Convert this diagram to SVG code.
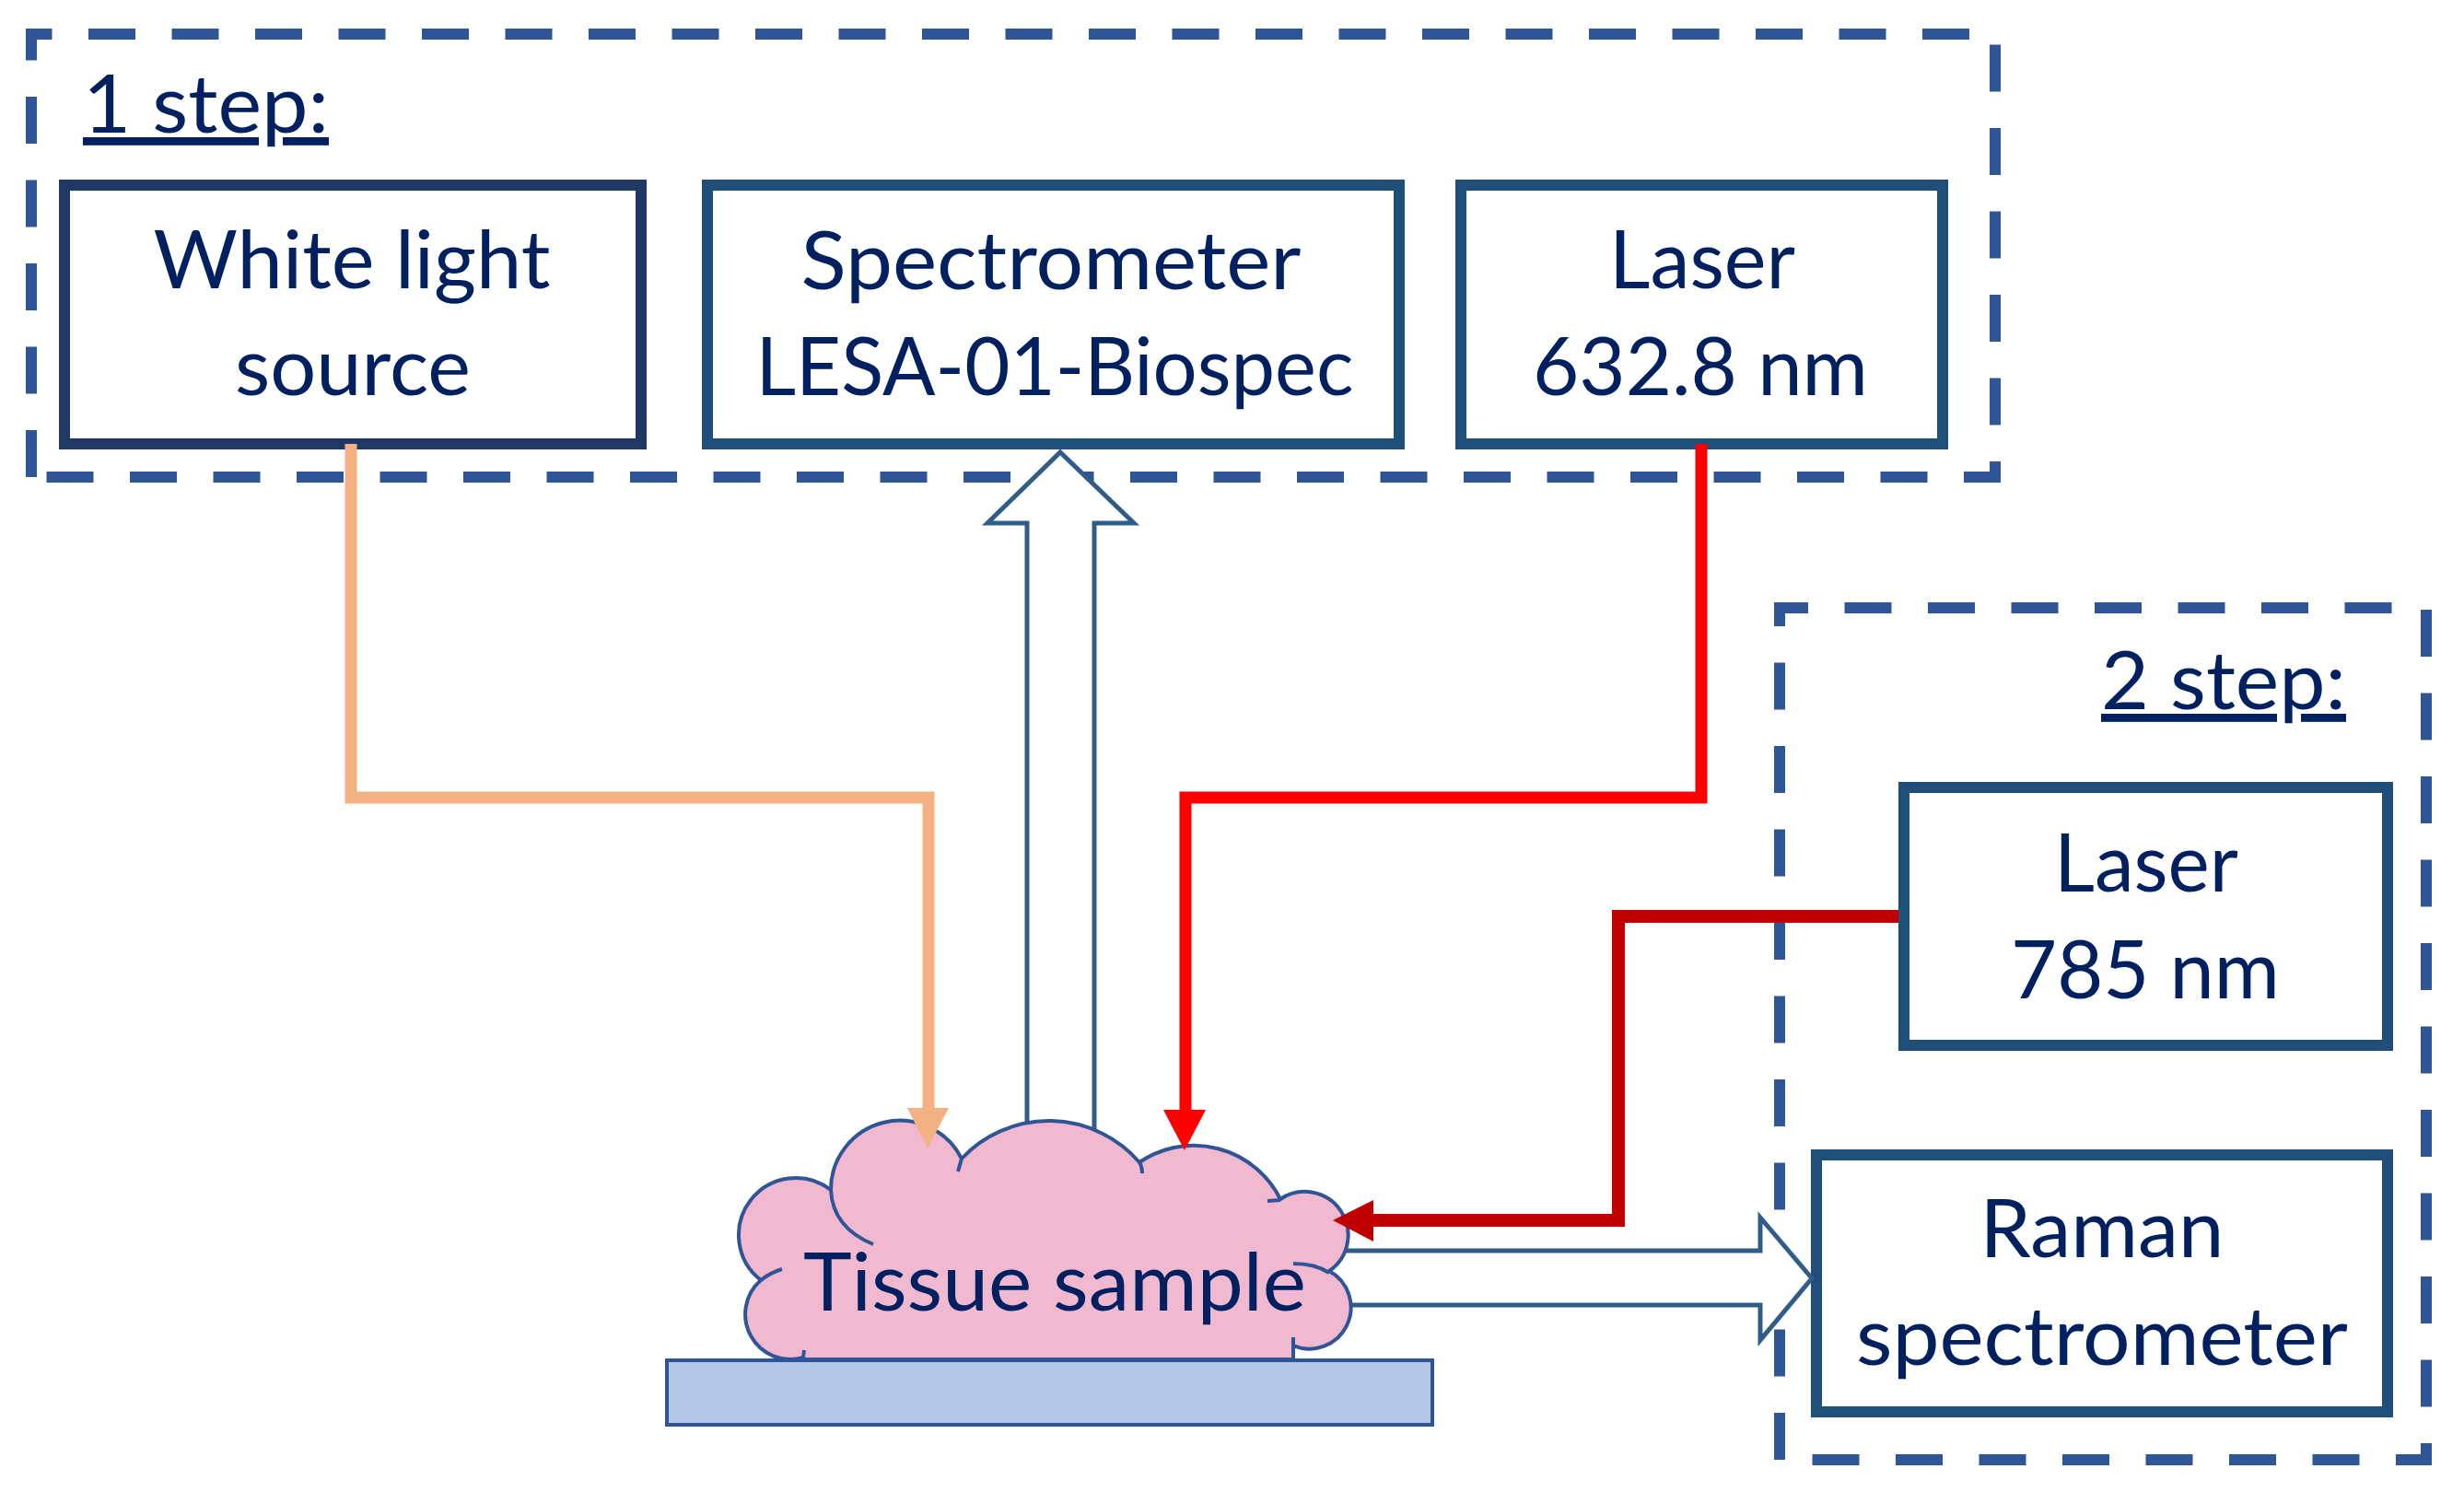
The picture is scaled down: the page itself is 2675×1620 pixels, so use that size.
<svg xmlns="http://www.w3.org/2000/svg" width="2675" height="1620" viewBox="0 0 2675 1620">
<style>
.dash{fill:none;stroke:#2F5597;stroke-width:12;stroke-dasharray:51 39.5}
.box{fill:#FFFFFF;stroke:#1F4E79;stroke-width:12}
.lbl{font-family:Lato,"Liberation Sans",sans-serif;font-size:88px;fill:#002060;text-anchor:middle}
.step{font-family:Lato,"Liberation Sans",sans-serif;font-size:88px;fill:#002060;text-decoration:underline}
.hollow{fill:#FFFFFF;stroke:#2F5D87;stroke-width:5;stroke-linejoin:miter}
.ln{fill:none;stroke-width:13;stroke-linejoin:miter}
</style>
<rect width="2675" height="1620" fill="#FFFFFF"/>
<g id="step1">
<path class="dash" d="M34,518 V37 H2166 V518 Z"/>
<text class="step" x="90" y="144" textLength="267" lengthAdjust="spacingAndGlyphs">1 step:</text>
</g>
<g id="step2">
<path class="dash" d="M1932,1585 V660 H2634 V1585 Z"/>
<text class="step" x="2281" y="770" textLength="266" lengthAdjust="spacingAndGlyphs">2 step:</text>
</g>
<g id="white-light-source">
<rect class="box" x="70" y="201" width="626" height="281" style="stroke:#203864"/>
<text class="lbl" x="382" y="313" textLength="431" lengthAdjust="spacingAndGlyphs">White light</text>
<text class="lbl" x="383" y="429" textLength="256" lengthAdjust="spacingAndGlyphs">source</text>
</g>
<g id="spectrometer">
<rect class="box" x="768" y="201" width="751" height="281"/>
<text class="lbl" x="1141" y="314" textLength="543" lengthAdjust="spacingAndGlyphs">Spectrometer</text>
<text class="lbl" x="1145" y="429" textLength="649" lengthAdjust="spacingAndGlyphs">LESA-01-Biospec</text>
</g>
<g id="laser-632">
<rect class="box" x="1586" y="201" width="523" height="281"/>
<text class="lbl" x="1848" y="313" textLength="202" lengthAdjust="spacingAndGlyphs">Laser</text>
<text class="lbl" x="1846" y="429" textLength="364" lengthAdjust="spacingAndGlyphs">632.8 nm</text>
</g>
<g id="laser-785">
<rect class="box" x="2067" y="855" width="525" height="280"/>
<text class="lbl" x="2330" y="968" textLength="200" lengthAdjust="spacingAndGlyphs">Laser</text>
<text class="lbl" x="2329" y="1084" textLength="292" lengthAdjust="spacingAndGlyphs">785 nm</text>
</g>
<g id="raman-spectrometer">
<rect class="box" x="1972" y="1254" width="620" height="279"/>
<text class="lbl" x="2282" y="1365" textLength="265" lengthAdjust="spacingAndGlyphs">Raman</text>
<text class="lbl" x="2282" y="1482" textLength="534" lengthAdjust="spacingAndGlyphs">spectrometer</text>
</g>
<g id="connectors-hollow">
<polygon class="hollow" points="1115,1250 1115,568 1072,568 1151,491 1231,568 1188,568 1188,1250"/>
<polygon class="hollow" points="1440,1358 1911,1358 1911,1322 1967,1388 1911,1455 1911,1417 1440,1417"/>
</g>
<g id="tissue-sample">
<path d="M872,1476 L872,1474 A49 49 0 0 1 826,1390 A62 62 0 0 1 902,1292 A75 75 0 0 1 1044,1258 A130 130 0 0 1 1237,1262 A105 105 0 0 1 1390,1302 A47 47 0 0 1 1443,1380 A45 45 0 0 1 1404,1461 L1404,1476 Z" fill="#F0B9CF" stroke="#2F5597" stroke-width="4"/>
<g fill="none" stroke="#2F5597" stroke-width="4">
<path d="M826,1390 Q836,1382 849,1378"/>
<path d="M902,1292 Q904,1333 948,1351"/>
<path d="M1044,1258 L1040,1272"/>
<path d="M1236,1260 Q1240,1266 1240,1274"/>
<path d="M1390,1303 L1376,1304"/>
<path d="M1404,1372 Q1428,1372 1443,1382"/>
<path d="M1404,1461 V1452"/>
<path d="M872,1474 L873,1466"/>
</g>
<text class="lbl" x="1145" y="1423" textLength="546" lengthAdjust="spacingAndGlyphs">Tissue sample</text>
</g>
<g id="slide">
<rect x="724" y="1477" width="831" height="70" fill="#B4C7E7" stroke="#2F5597" stroke-width="4"/>
</g>
<g id="connectors">
<path class="ln" d="M381,482 V866 H1008 V1206" stroke="#F4B183"/>
<polygon points="985,1203 1030,1203 1007,1247" fill="#F4B183"/>
<path class="ln" d="M1847,482 V866 H1287 V1208" stroke="#FF0000"/>
<polygon points="1263,1205 1309,1205 1286,1249" fill="#FF0000"/>
<path class="ln" d="M2061,995 H1757 V1325 H1489" stroke="#C00000" style="stroke-width:14"/>
<polygon points="1491,1303 1491,1348 1447,1325" fill="#C00000"/>
</g>
</svg>
